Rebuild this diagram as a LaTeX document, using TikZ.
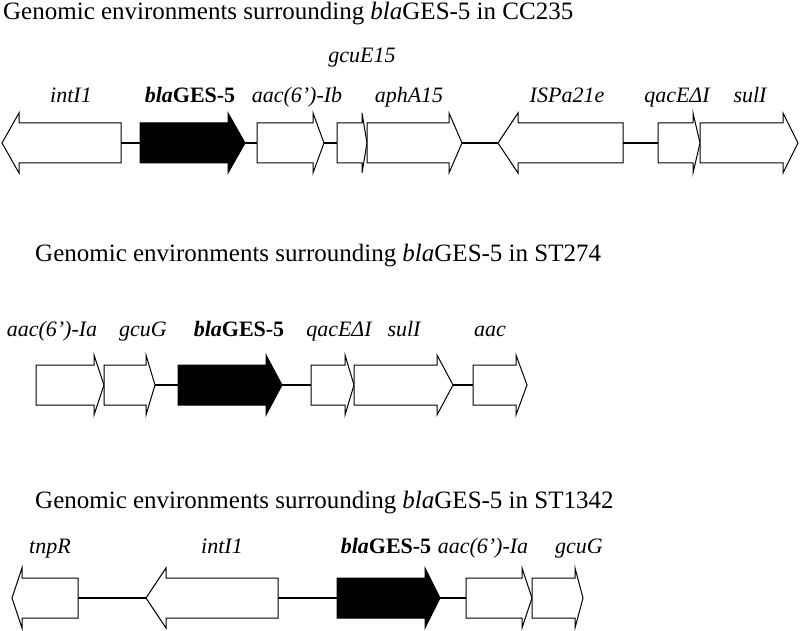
\documentclass[tikz,border=0pt]{standalone}
\usepackage{fontspec}
\setmainfont{Liberation Serif}
\tikzset{
  genewhite/.style={draw=black, fill=white, line width=1pt, line join=miter},
  geneblack/.style={draw=black, fill=black, line width=1pt, line join=miter},
  link/.style={draw=black, line width=1.8pt},
  genelabel/.style={anchor=base, inner sep=0pt, font=\fontsize{22}{22}\selectfont\itshape},
  boldlabel/.style={anchor=base, inner sep=0pt, font=\fontsize{22}{22}\selectfont\bfseries},
  titletext/.style={anchor=base west, inner sep=0pt, font=\fontsize{25}{26}\selectfont}
}
% right-pointing gene: name, body-left, body-right, tip, centre-y, style
\newcommand{\rgene}[6]{%
  \draw[#6] (#2,#5-20) -- (#3,#5-20) -- (#3,#5-30) -- (#4,#5) -- (#3,#5+30)
    -- (#3,#5+20) -- (#2,#5+20) -- cycle;
  \coordinate (#1-l) at (#2,#5);
  \coordinate (#1-r) at (#4,#5);}
% left-pointing gene: name, tip, head-base, body-right, centre-y, style
\newcommand{\lgene}[6]{%
  \draw[#6] (#4,#5-20) -- (#3,#5-20) -- (#3,#5-30) -- (#2,#5) -- (#3,#5+30)
    -- (#3,#5+20) -- (#4,#5+20) -- cycle;
  \coordinate (#1-l) at (#2,#5);
  \coordinate (#1-r) at (#4,#5);}
\begin{document}
\begin{tikzpicture}[x=1pt, y=-1pt]
\useasboundingbox (0,0) rectangle (800,631);

% ---------------- Row 1 : CC235 ----------------
\node[titletext] (t1) at (3,20) {Genomic environments surrounding \textit{bla}GES-5 in CC235};

\lgene{a1}{2}{19}{121}{143}{genewhite}
\rgene{a2}{140}{228}{245}{143}{geneblack}
\rgene{a3}{257}{313}{324}{143}{genewhite}
\rgene{a4}{337}{362}{367}{143}{genewhite}
\rgene{a5}{367}{449}{462}{143}{genewhite}
\lgene{a6}{498}{518}{623}{143}{genewhite}
\rgene{a7}{658}{693}{700}{143}{genewhite}
\rgene{a8}{700}{783}{798}{143}{genewhite}

\draw[link] (a1-r) -- (a2-l);
\draw[link] (a2-r) -- (a3-l);
\draw[link] (a3-r) -- (a4-l);
\draw[link] (a5-r) -- (a6-l);
\draw[link] (a6-r) -- (a7-l);

\node[genelabel] (la1) at (71,103) {intI1};
\node[boldlabel] (la2) at (190,103) {\textit{bla}GES-5};
\node[genelabel] (la3) at (297,103) {aac(6’)-Ib};
\node[genelabel] (la4) at (362,63) {gcuE15};
\node[genelabel] (la5) at (409,103) {aphA15};
\node[genelabel] (la6) at (567,103) {ISPa21e};
\node[genelabel] (la7) at (677,103) {qacEΔI};
\node[genelabel] (la8) at (750,103) {sulI};

% ---------------- Row 2 : ST274 ----------------
\node[titletext] (t2) at (35,261) {Genomic environments surrounding \textit{bla}GES-5 in ST274};

\rgene{b1}{36}{94}{104}{385}{genewhite}
\rgene{b2}{104}{146}{155}{385}{genewhite}
\rgene{b3}{178}{266}{282}{385}{geneblack}
\rgene{b4}{311}{345}{354}{385}{genewhite}
\rgene{b5}{354}{437}{453}{385}{genewhite}
\rgene{b6}{473}{516}{527}{385}{genewhite}

\draw[link] (b2-r) -- (b3-l);
\draw[link] (b3-r) -- (b4-l);
\draw[link] (b5-r) -- (b6-l);

\node[genelabel] (lb1) at (52,336) {aac(6’)-Ia};
\node[genelabel] (lb2) at (143,336) {gcuG};
\node[boldlabel] (lb3) at (239,336) {\textit{bla}GES-5};
\node[genelabel] (lb4) at (339,336) {qacEΔI};
\node[genelabel] (lb5) at (404,336) {sulI};
\node[genelabel] (lb6) at (490,336) {aac};

% ---------------- Row 3 : ST1342 ----------------
\node[titletext] (t3) at (35,508) {Genomic environments surrounding \textit{bla}GES-5 in ST1342};

\lgene{c1}{12}{22}{78}{598}{genewhite}
\lgene{c2}{146}{166}{278}{598}{genewhite}
\rgene{c3}{337}{425}{440}{598}{geneblack}
\rgene{c4}{466}{522}{532}{598}{genewhite}
\rgene{c5}{532}{575}{583}{598}{genewhite}

\draw[link] (c1-r) -- (c2-l);
\draw[link] (c2-r) -- (c3-l);
\draw[link] (c3-r) -- (c4-l);

\node[genelabel] (lc1) at (50,553) {tnpR};
\node[genelabel] (lc2) at (222,553) {intI1};
\node[boldlabel] (lc3) at (386,553) {\textit{bla}GES-5};
\node[genelabel] (lc4) at (483,553) {aac(6’)-Ia};
\node[genelabel] (lc5) at (579,553) {gcuG};
\end{tikzpicture}
\end{document}
